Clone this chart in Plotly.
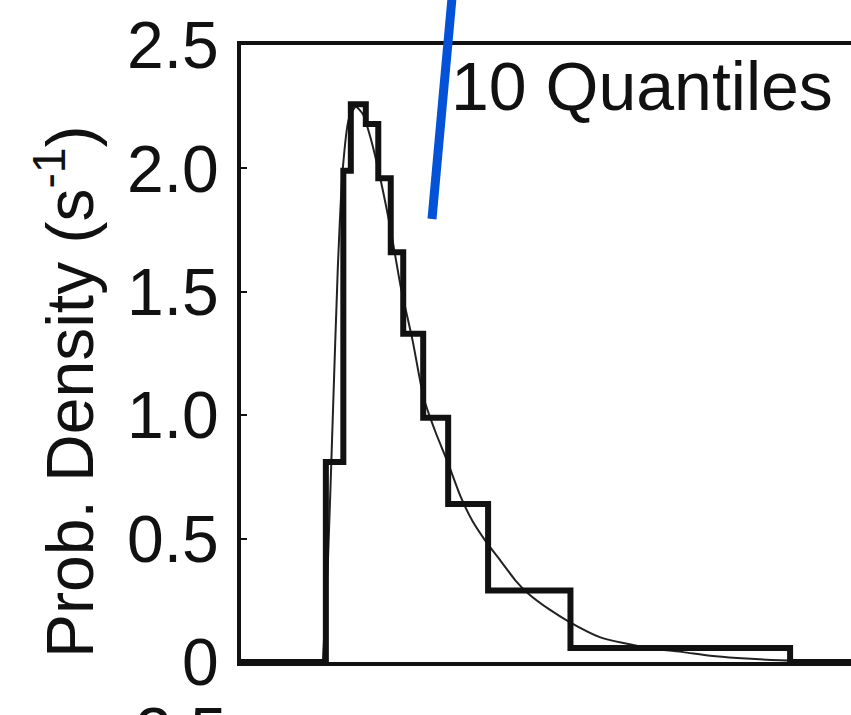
import plotly.graph_objects as go

# Quantile histogram: bin edges (s) and densities (1/s)
bin_edges = [0.34, 0.41, 0.44, 0.50, 0.55, 0.60, 0.65, 0.73, 0.83, 0.99, 1.32, 2.20]
bin_density = [0.81, 1.99, 2.26, 2.18, 1.96, 1.66, 1.33, 0.99, 0.64, 0.29, 0.057]

# Fitted density curve
fit_x = [0.328, 0.348, 0.368, 0.388, 0.408, 0.432, 0.46, 0.488, 0.52, 0.56, 0.60,
         0.64, 0.688, 0.732, 0.78, 0.828, 0.88, 0.928, 0.98, 1.04, 1.10, 1.148,
         1.24, 1.32, 1.44, 1.532, 1.64, 1.772, 1.88, 1.988, 2.16, 2.444]
fit_y = [0.0, 0.40, 1.00, 1.60, 2.00, 2.20, 2.25, 2.22, 2.12, 1.95, 1.75,
         1.52, 1.30, 1.07, 0.93, 0.81, 0.67, 0.57, 0.49, 0.41, 0.33, 0.28,
         0.21, 0.16, 0.10, 0.077, 0.056, 0.04, 0.025, 0.016, 0.007, 0.002]

y_ticks = [0, 0.5, 1.0, 1.5, 2.0, 2.5]
y_tick_text = ["0", "0.5", "1.0", "1.5", "2.0", "2.5"]

X_MAX = 2.444
FONT = "Liberation Sans, Arial, sans-serif"

# step outline: zero level, the bins, back to zero
step_x = [0.0] + bin_edges + [X_MAX]
step_y = [0.0] + bin_density + [0.0, 0.0]

fig = go.Figure()
fig.add_trace(go.Scatter(
    x=fit_x, y=fit_y, mode="lines",
    line=dict(color="#222222", width=2, shape="spline", smoothing=0.6),
    hoverinfo="skip", showlegend=False,
))
fig.add_trace(go.Scatter(
    x=step_x, y=step_y, mode="lines",
    line=dict(color="#111111", width=6, shape="hv"),
    hoverinfo="skip", showlegend=False,
))

W, H = 851, 715
L, R, T, B = 241, 0, 45, 53
pw, ph = W - L - R, H - T - B


def px_x(p):
    return (p - L) / pw


def px_y(p):
    return (H - B - p) / ph


fig.update_layout(
    width=W, height=H,
    margin=dict(l=L, r=R, t=T, b=B),
    paper_bgcolor="white", plot_bgcolor="white",
    font=dict(family=FONT, color="#111111"),
    xaxis=dict(range=[0, X_MAX], showline=True, linecolor="#111111", linewidth=4,
               mirror=True, ticks="", showticklabels=False, showgrid=False,
               zeroline=False),
    yaxis=dict(range=[0, 2.5], showline=True, linecolor="#111111", linewidth=4,
               mirror=False, ticks="inside", ticklen=6, tickwidth=2,
               tickcolor="#111111", tickvals=y_ticks, ticktext=y_tick_text,
               tickfont=dict(family=FONT, size=66, color="#111111"),
               ticklabelstandoff=5, showgrid=False, zeroline=False),
    showlegend=False,
)

# panel label
fig.add_annotation(
    text="10 Quantiles", xref="paper", yref="paper",
    x=px_x(449), y=px_y(86), xanchor="left", yanchor="middle",
    showarrow=False, font=dict(family=FONT, size=68, color="#111111"),
)

# y-axis title
fig.add_annotation(
    text="Prob. Density (s<sup>-1</sup>)", xref="paper", yref="paper",
    x=px_x(65), y=px_y(392), xanchor="center", yanchor="middle",
    textangle=-90, showarrow=False,
    font=dict(family=FONT, size=66, color="#111111"),
)

# top of the next panel's axis label
fig.add_annotation(
    text="2.5", xref="paper", yref="paper",
    x=px_x(229), y=px_y(692), xanchor="right", yanchor="top",
    showarrow=False, font=dict(family=FONT, size=66, color="#111111"),
)

# blue pointer stroke
fig.add_shape(
    type="line", xref="paper", yref="paper",
    x0=px_x(452), y0=px_y(-2), x1=px_x(432), y1=px_y(219),
    line=dict(color="#0352D8", width=9),
)

fig.write_html("out.html")
